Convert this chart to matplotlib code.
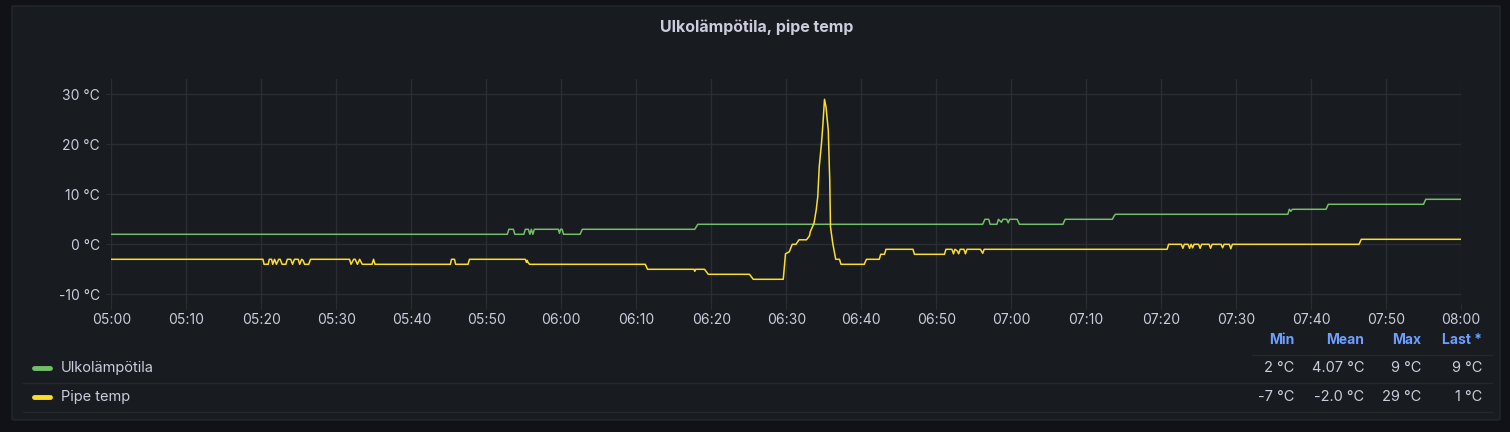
import matplotlib
matplotlib.use("Agg")
import matplotlib.pyplot as plt
from matplotlib.lines import Line2D
from matplotlib.patches import FancyBboxPatch

plt.rcParams['font.family'] = ['Inter', 'DejaVu Sans']

# minutes after 05:00 and temperature readings (°C)
outdoor_min = [0, 52.8, 53.0, 53.6, 53.8, 55.0, 55.2, 55.6, 55.8, 56.0, 56.2, 56.4,
               59.6, 59.75, 59.9, 60.1, 60.3, 62.5, 62.8, 77.8, 78.2,
               116.2, 116.5, 117.0, 117.2, 118.1, 118.3, 118.7, 118.9, 119.4, 119.6,
               119.8, 120.8, 121.1, 126.9, 127.2, 133.5, 133.7, 133.9,
               156.9, 157.1, 157.3, 157.5, 162.0, 162.3, 175.0, 175.3, 180]
outdoor_val = [2, 2, 3, 3, 2, 2, 3, 3, 2, 3, 2, 3,
               3, 2.2, 3, 3, 2, 2, 3, 3, 4,
               4, 5, 5, 4, 4, 5, 4.4, 5, 5, 4.3,
               5, 5, 4, 4, 5, 5, 5.6, 6,
               6, 7, 6.6, 7, 7, 8, 8, 9, 9]

pipe_min = [0, 20.2, 20.35, 20.9, 21.05, 21.35, 21.5, 21.75, 22.0, 22.3, 22.5, 22.75,
            23.25, 23.45, 23.9, 24.15, 24.4, 24.9, 25.1, 25.35, 25.55, 25.75, 26.3, 26.55,
            31.75, 31.95, 32.3, 32.5, 32.8, 33.1, 33.45, 34.75, 34.95, 35.15,
            45.2, 45.35, 45.75, 45.9, 47.55, 47.75, 55.2, 55.35, 55.45, 55.55, 55.75,
            71.2, 71.5, 77.7, 77.8, 77.9, 79.1, 79.6, 85.1, 85.6, 89.6,
            89.9, 90.4, 90.8, 91.3, 91.7, 92.7, 93.1, 93.2, 93.7, 94.0, 94.2, 94.4,
            94.7, 94.9, 95.1, 95.3, 95.6, 95.8, 95.9, 96.2, 96.6, 97.1, 97.3,
            100.4, 100.7, 102.4, 102.6, 103.1, 103.3, 106.9, 107.1, 111.1, 111.3,
            112.1, 112.3, 112.5, 112.8, 113.0, 113.2, 113.7, 113.9, 114.1, 115.9,
            116.2, 116.4, 140.8, 141.0, 142.7, 142.9, 143.1, 143.6, 143.8, 144.0,
            144.2, 144.4, 145.0, 145.2, 145.4, 146.4, 146.6, 146.8, 148.0, 148.2,
            148.4, 149.1, 149.3, 149.5, 166.4, 166.7, 180]
pipe_val = [-3, -3, -4, -4, -3, -3, -4, -3, -4, -3, -3, -4,
            -4, -3, -3, -4, -3, -3, -4, -3, -3.2, -4, -4, -3,
            -3, -4, -3, -3, -4, -3, -4, -4, -3, -4,
            -4, -3, -3, -4, -4, -3, -3, -3.6, -3.2, -3.6, -4,
            -4, -5, -5, -5.4, -5, -5, -6, -6, -7, -7,
            -1.9, -1.5, 0, 0, 0.9, 0.9, 1.7, 2.5, 4.2, 6.9, 9.5, 15.5,
            20.2, 24.2, 29, 27.5, 22.9, 12.9, 3.5, 0.2, -3, -3, -4,
            -4, -3, -3, -2, -2, -1, -1, -2, -2, -1,
            -1, -1.9, -1, -1.3, -1.9, -1, -1, -1.9, -1, -1,
            -1.8, -1, -1, 0, 0, -0.8, 0, 0, -0.8, 0,
            -0.7, 0, 0, -0.8, 0, 0, -0.8, 0, 0, -0.7,
            0, 0, -0.9, 0, 0, 1, 1]

series_names = ["Ulkolämpötila", "Pipe temp"]
series_colors = ["#73bf69", "#fade2a"]
stat_headers = ["Min", "Mean", "Max", "Last *"]
stat_rows = [["2 °C", "4.07 °C", "9 °C", "9 °C"],
             ["-7 °C", "-2.0 °C", "29 °C", "1 °C"]]

y_ticks = [-10, 0, 10, 20, 30]
x_ticks = list(range(0, 181, 10))

W, H = 1510, 432
TEXT = "#ccccdc"
GRID = "#2a2d32"
LINE = "#25282d"


def fx(x):
    return x / W


def fy(y):
    return 1 - y / H


fig = plt.figure(figsize=(W / 100, H / 100), dpi=100)
fig.patch.set_facecolor("#111217")

# panel box, kept behind the axes
fig.add_artist(FancyBboxPatch((fx(12), fy(420)), fx(1500) - fx(12), fy(6) - fy(420),
                              boxstyle="round,pad=0,rounding_size=0.002",
                              transform=fig.transFigure, facecolor="#181b1f",
                              edgecolor=LINE, linewidth=1, zorder=-10))

fig.text(fx(757), fy(27), "Ulkolämpötila, pipe temp", color=TEXT, fontsize=11.5,
         fontweight="bold", ha="center", va="center")

ax = fig.add_axes([fx(111.5), fy(304), fx(1461) - fx(111.5), (304 - 79) / H])
ax.set_facecolor("none")
ax.plot(outdoor_min, outdoor_val, color=series_colors[0], lw=1.1)
ax.plot(pipe_min, pipe_val, color=series_colors[1], lw=1.1)
ax.set_xlim(0, 180)
ax.set_ylim(-11.94, 33.06)
ax.set_yticks(y_ticks)
ax.set_yticklabels([f"{v} °C" for v in y_ticks])
ax.set_xticks(x_ticks)
ax.set_xticklabels([f"{5 + m // 60:02d}:{m % 60:02d}" for m in x_ticks])
ax.grid(True, color=GRID, lw=1)
ax.set_axisbelow(True)
for s in ax.spines.values():
    s.set_visible(False)
ax.tick_params(axis="both", colors=GRID, labelcolor=TEXT, labelsize=10, length=3.5)
ax.tick_params(axis="y", pad=5)
ax.tick_params(axis="x", pad=3)

# legend table
stat_x = [1294, 1364, 1421, 1482]
for x, h in zip(stat_x, stat_headers):
    fig.text(fx(x), fy(340), h, color="#6e9fff", fontsize=10, fontweight="bold",
             ha="right", va="center")
fig.add_artist(Line2D([fx(1252), fx(1492)], [fy(354.5), fy(354.5)],
                      transform=fig.transFigure, color=LINE, lw=1))
row_y = [368, 397]
for i, y in enumerate(row_y):
    fig.add_artist(Line2D([fx(34), fx(50)], [fy(y), fy(y)], transform=fig.transFigure,
                          color=series_colors[i], lw=3.5, solid_capstyle="round"))
    fig.text(fx(61), fy(y), series_names[i], color=TEXT, fontsize=10.5,
             ha="left", va="center")
    for x, v in zip(stat_x, stat_rows[i]):
        fig.text(fx(x), fy(y), v, color=TEXT, fontsize=10.5, ha="right", va="center")
    fig.add_artist(Line2D([fx(23), fx(1492)], [fy(y + 14.5), fy(y + 14.5)],
                          transform=fig.transFigure, color=LINE, lw=1))

fig.savefig("out.png", dpi=100, facecolor=fig.get_facecolor())
